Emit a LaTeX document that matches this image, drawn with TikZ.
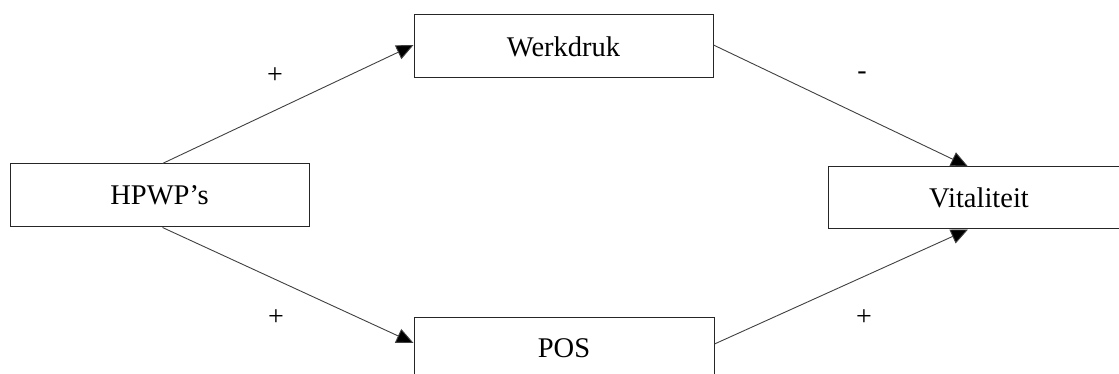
\documentclass[tikz,border=0pt]{standalone}
\usepackage{fontspec}
\setmainfont{Liberation Serif}
\usetikzlibrary{arrows.meta}
\begin{document}
\begin{tikzpicture}[x=1pt, y=-1pt,
		box/.style={draw=black!85, line width=1pt, minimum width=299pt, minimum height=63pt, inner sep=0pt, font=\fontsize{28.5}{32}\selectfont},
		pijl/.style={line width=0.9pt, draw=black!75, -{Triangle[length=17pt, width=15pt, fill=black]}},
		teken/.style={font=\fontsize{28}{32}\selectfont}]
		\useasboundingbox (0,0) rectangle (1119,374);
		\clip (0,0) rectangle (1119,374);
		\node[box] (HP) at (159.5,195.5) {HPWP’s};
		\node[box] (WD) at (563.5,46.5) {Werkdruk};
		\node[box, minimum width=302pt, minimum height=62pt] (VT) at (979,198) {Vitaliteit};
		\node[box, minimum width=300pt] (PS) at (564,348.5) {POS};
		\draw[pijl] ([xshift=3pt]HP.north) -- ([yshift=1.5pt]WD.west);
		\draw[pijl] ([yshift=1.5pt]WD.east) -- ([xshift=-11pt]VT.north);
		\draw[pijl] ([xshift=3pt]HP.south) -- ([yshift=5.5pt]PS.west);
		\draw[pijl] ([yshift=4.5pt]PS.east) -- ([xshift=-11pt]VT.south);
		\node[teken] (T1) at (275,76) {+};  \node[teken] (T2) at (862,76) {-};
		\node[teken] (T3) at (276,318) {+}; \node[teken] (T4) at (864,318) {+};
	\end{tikzpicture}
\end{document}
